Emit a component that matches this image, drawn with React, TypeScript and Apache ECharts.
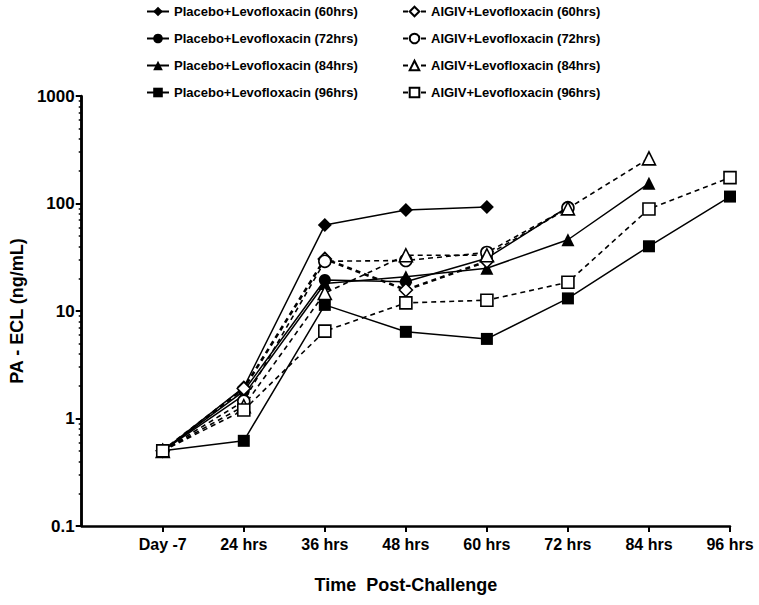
import React, { useEffect, useRef } from "react";
import * as echarts from "echarts";

const categories = ["Day -7", "24 hrs", "36 hrs", "48 hrs", "60 hrs", "72 hrs", "84 hrs", "96 hrs"];
const yMajorTicks = [0.1, 1, 10, 100, 1000];
const yMin = 0.1;
const yMax = 1000;

const placebo60 = [0.5, 1.95, 63, 87, 93];
const placebo72 = [0.5, 1.8, 19.4, 18.7, 31, 93];
const placebo84 = [0.5, 1.65, 18, 20.8, 25, 46, 154];
const placebo96 = [0.5, 0.62, 11.4, 6.4, 5.5, 13.1, 40, 116];
const aigiv60 = [0.5, 1.9, 30.5, 15.7, 29];
const aigiv72 = [0.5, 1.45, 29, 29.5, 35, 91];
const aigiv84 = [0.5, 1.3, 14.7, 33, 33, 90, 263];
const aigiv96 = [0.5, 1.2, 6.5, 11.9, 12.6, 18.5, 89, 174];

const placeboNames = [
  "Placebo+Levofloxacin (60hrs)",
  "Placebo+Levofloxacin (72hrs)",
  "Placebo+Levofloxacin (84hrs)",
  "Placebo+Levofloxacin (96hrs)",
];
const aigivNames = [
  "AIGIV+Levofloxacin (60hrs)",
  "AIGIV+Levofloxacin (72hrs)",
  "AIGIV+Levofloxacin (84hrs)",
  "AIGIV+Levofloxacin (96hrs)",
];

const FONT = "'Liberation Sans', Arial, Helvetica, sans-serif";

function minorTicks(): number[] {
  const out: number[] = [];
  for (const d of [0.1, 1, 10, 100]) {
    for (let k = 2; k <= 9; k++) out.push(+(d * k).toPrecision(3));
  }
  return out;
}

function mk(
  name: string,
  values: number[],
  symbol: string,
  size: number,
  filled: boolean,
  dashed: boolean,
  width: number
) {
  return {
    name,
    type: "line",
    data: values.map((v, i) => [i, v]),
    symbol,
    symbolSize: size,
    showAllSymbol: true,
    lineStyle: {
      color: "#000",
      width,
      type: dashed ? [5, 4] : "solid",
    },
    itemStyle: {
      color: filled ? "#000" : "#fff",
      borderColor: "#000",
      borderWidth: filled ? 0 : 1.6,
    },
    emphasis: { disabled: true },
  };
}

export default function App() {
  const ref = useRef<HTMLDivElement>(null);
  useEffect(() => {
    document.body.style.margin = "0";
    const chart = echarts.init(ref.current!, null, { renderer: "svg" });
    const legendText = { fontFamily: FONT, fontWeight: "bold", fontSize: 13, color: "#000" };
    const axisLineStyle = { color: "#000", width: 2.5 };
    const first: any = mk(placeboNames[0], placebo60, "diamond", 14, true, false, 1.5);
    // y-axis spine at the left end of the x range
    first.markLine = {
      silent: true,
      symbol: "none",
      label: { show: false },
      lineStyle: { color: "#000", width: 2.5, type: "solid" },
      emphasis: { disabled: true },
      data: [{ xAxis: -1 }],
    };
    const option: any = {
      animation: false,
      backgroundColor: "#fff",
      legend: [
        {
          data: placeboNames,
          orient: "vertical",
          left: 141,
          top: 0,
          itemGap: 14,
          itemWidth: 22,
          itemHeight: 12,
          textStyle: legendText,
          selectedMode: false,
        },
        {
          data: aigivNames,
          orient: "vertical",
          left: 397,
          top: 0,
          itemGap: 14,
          itemWidth: 23,
          itemHeight: 12,
          textStyle: legendText,
          selectedMode: false,
        },
      ],
      grid: { left: 81, right: 29, top: 96, bottom: 79, containLabel: false },
      xAxis: {
        type: "value",
        min: -1,
        max: categories.length - 1,
        interval: 1,
        name: "Time  Post-Challenge",
        nameLocation: "middle",
        nameGap: 50,
        nameTextStyle: { fontFamily: FONT, fontWeight: "bold", fontSize: 18, color: "#000" },
        axisLine: { show: true, onZero: false, lineStyle: axisLineStyle },
        axisTick: {
          show: true,
          length: 6,
          lineStyle: { color: "#000", width: 2 },
          customValues: categories.map((_, i) => i),
        },
        axisLabel: {
          margin: 10,
          fontFamily: FONT,
          fontWeight: "bold",
          fontSize: 16,
          color: "#000",
          customValues: categories.map((_, i) => i),
          formatter: (v: number) => categories[Math.round(v)] ?? "",
        },
        splitLine: { show: false },
      },
      yAxis: [
        {
          type: "log",
          logBase: 10,
          min: yMin,
          max: yMax,
          position: "left",
          name: "PA - ECL (ng/mL)",
          nameLocation: "middle",
          nameGap: 55,
          nameTextStyle: { fontFamily: FONT, fontWeight: "bold", fontSize: 18, color: "#000" },
          axisLine: { show: true, onZero: false, lineStyle: axisLineStyle },
          axisTick: {
            show: true,
            length: 6,
            lineStyle: { color: "#000", width: 2 },
            customValues: yMajorTicks,
          },
          axisLabel: {
            margin: 7,
            fontFamily: FONT,
            fontWeight: "bold",
            fontSize: 17,
            color: "#000",
            customValues: yMajorTicks,
            formatter: (v: number) => String(+v.toPrecision(3)),
          },
          splitLine: { show: false },
        },
        {
          type: "log",
          logBase: 10,
          min: yMin,
          max: yMax,
          position: "left",
          offset: 0,
          axisLine: { show: false, onZero: false },
          axisTick: {
            show: true,
            length: 3,
            lineStyle: { color: "#000", width: 1.5 },
            customValues: minorTicks(),
          },
          axisLabel: { show: false },
          splitLine: { show: false },
        },
      ],
      series: [
        first,
        mk(placeboNames[1], placebo72, "circle", 12, true, false, 1.5),
        mk(placeboNames[2], placebo84, "triangle", 13, true, false, 1.5),
        mk(placeboNames[3], placebo96, "rect", 12, true, false, 1.5),
        mk(aigivNames[0], aigiv60, "diamond", 13, false, true, 2.6),
        mk(aigivNames[1], aigiv72, "circle", 12, false, true, 1.6),
        mk(aigivNames[2], aigiv84, "triangle", 13, false, true, 1.6),
        mk(aigivNames[3], aigiv96, "rect", 12, false, true, 1.6),
      ],
    };
    chart.setOption(option);
    return () => chart.dispose();
  }, []);
  return <div ref={ref} style={{ width: 759, height: 605 }} />;
}
